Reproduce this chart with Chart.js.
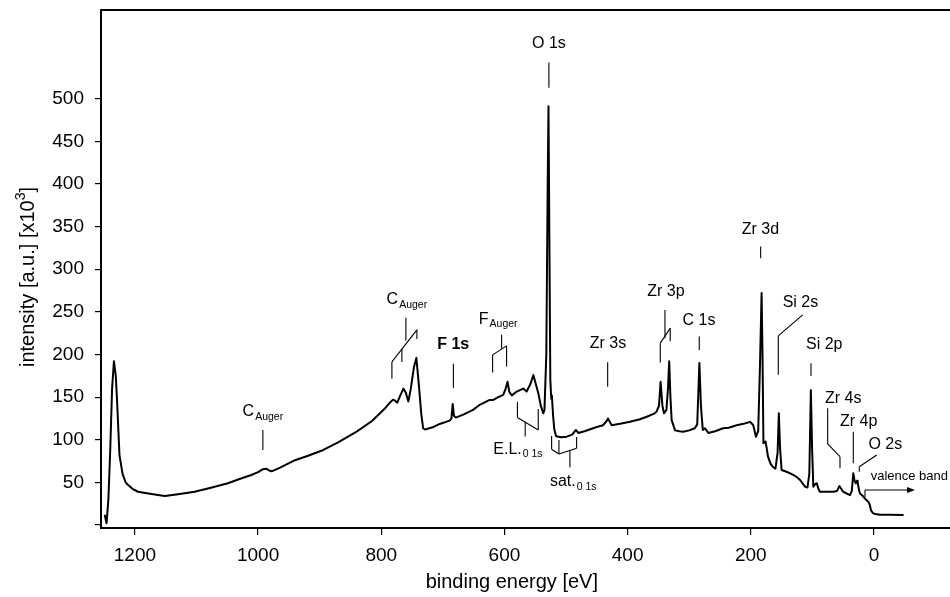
<!DOCTYPE html>
<html>
<head>
<meta charset="utf-8">
<script src="https://cdn.jsdelivr.net/npm/chart.js@4.4.0/dist/chart.umd.min.js"></script>
<style>
    html, body { margin: 0; padding: 0; background: #fff; }
    #wrap { width: 950px; height: 597px; position: relative; }
</style>
</head>
<body>
<div id="wrap"><canvas id="xpsChart"></canvas></div>
<script>
// XPS survey spectrum (binding energy in eV, intensity in 10^3 a.u.)
const energy = [
    1249, 1246, 1243, 1240, 1237, 1234, 1231, 1229, 1225, 1220, 1215, 1211, 1203, 1195, 1178, 1160,
    1151, 1130, 1103, 1075, 1049, 1030, 1011, 1000, 992, 987, 982, 978, 965, 940, 920, 894,
    870, 840, 815, 795, 786, 781, 778, 774, 769, 764, 760, 756, 752, 747, 743, 739,
    735, 732, 729, 715, 705, 695, 689, 686, 684, 682, 679, 665, 651, 640, 624, 618,
    610, 602, 598, 595, 592, 588, 580, 569.5, 564, 558, 553, 549, 545, 541, 537, 535,
    532, 530, 528.5, 527, 525.5, 524, 523, 522, 521, 519, 516, 508, 499, 490, 484, 480,
    470, 450, 440, 434, 432, 429, 426, 410, 396, 380, 369, 356, 353, 349, 346.5, 343.5,
    341, 337, 334.5, 332.5, 330.5, 328.5, 323, 316, 310, 300, 291, 287, 283.5, 281, 278, 274.4,
    269, 258, 245, 236, 223, 210, 201, 196, 191.6, 188, 185, 182.5, 181, 179.5, 176, 172,
    168, 164, 160, 156.5, 154.5, 152.5, 150, 142, 131, 125, 120, 112, 108, 105, 102.5, 100.5,
    98.5, 95.5, 93, 90, 87.7, 80, 66, 60, 56, 52, 50, 39, 36, 33.6, 31.5, 29.7,
    27.5, 26.5, 24, 22.7, 18, 14.6, 12, 9, 7, 5, 2, -2, -10, -25, -48
];
const intensity = [
    12, 2, 30, 88, 160, 192, 175, 147, 82, 60, 50, 47, 42, 39, 37, 35,
    34, 36, 39, 44, 49, 54, 58.7, 62, 65.5, 66, 64, 63, 67, 76, 81, 88,
    97, 109.5, 122, 136, 143.5, 147, 146, 143.5, 152, 160, 155, 145, 160, 185, 196, 165,
    130, 113.5, 112, 115, 118.5, 121, 122.4, 125, 142, 128, 126, 130, 135, 141, 146.7, 146.7,
    150, 152.6, 160, 168, 156, 152, 156.5, 160, 156.5, 165, 176, 165, 154.6, 140, 131, 135,
    200, 380, 491, 330, 170, 148, 152, 140, 128, 112, 104, 103, 103.6, 106, 111.5, 108,
    110, 115, 117, 122, 125, 121, 117, 119, 121, 124, 127, 131, 133, 140, 168, 140,
    131, 135, 160, 192, 150, 123, 111, 110, 109.5, 111, 113.5, 118, 190, 140, 111.5, 113.5,
    108, 110, 113.5, 114, 117, 119, 121, 117, 103.6, 110, 190, 272, 200, 96, 98, 80,
    72, 68, 66, 85, 131, 90, 64.5, 62.5, 58.7, 56, 52.8, 45, 44, 60, 158, 90,
    45, 48, 49, 42, 39, 39, 39, 40, 45.7, 41, 39, 35, 40, 60.7, 52, 49,
    52, 49.6, 40, 37, 34, 31, 29, 27, 24, 17.6, 14, 13, 12, 12, 11.7
];

const xTicks = [0, 200, 400, 600, 800, 1000, 1200];
const yTicks = [0, 50, 100, 150, 200, 250, 300, 350, 400, 450, 500];
const yTickLabels = ['', '50', '100', '150', '200', '250', '300', '350', '400', '450', '500'];

// peak labels, anchored in data units (energy, intensity)
const peakLabels = [
    { text: 'O 1s', e: 527.8, i: 564.6 },
    { text: 'C', sub: 'Auger', e: 992.2, i: 132.6 },
    { text: 'C', sub: 'Auger', e: 758.4, i: 264.1 },
    { text: 'F 1s', e: 683.2, i: 211.3, bold: true },
    { text: 'F', sub: 'Auger', e: 610.1, i: 241.4 },
    { text: 'E.L.', sub: '0 1s', e: 578.1, i: 88.8 },
    { text: 'sat.', sub: '0 1s', e: 488.3, i: 50.8 },
    { text: 'Zr 3s', e: 432.0, i: 212.4 },
    { text: 'Zr 3p', e: 337.8, i: 273.5 },
    { text: 'C 1s', e: 284.2, i: 239.4 },
    { text: 'Zr 3d', e: 184.3, i: 346.2 },
    { text: 'Si 2s', e: 119.4, i: 260.6 },
    { text: 'Si 2p', e: 80.7, i: 211.3 },
    { text: 'Zr 4s', e: 49.9, i: 148.7 },
    { text: 'Zr 4p', e: 24.8, i: 121.2 },
    { text: 'O 2s', e: -18.4, i: 93.9 },
    { text: 'valence band', e: 5.4, i: 56.7, small: true }
];

// leader lines [e1, i1, e2, i2]
const leaderLines = [
    [527.8, 542.3, 527.8, 512.9],
    [992.2, 111.5, 992.2, 88.0],
    [760.0, 243.0, 760.0, 216.0],
    [782.7, 191.3, 742.1, 228.9],
    [782.7, 191.3, 782.7, 171.4],
    [766.5, 206.6, 766.5, 191.3],
    [742.1, 228.9, 742.1, 218.3],
    [682.9, 189.0, 682.9, 160.8],
    [604.6, 223.0, 604.6, 206.6],
    [619.2, 199.5, 596.5, 210.1],
    [619.2, 199.5, 619.2, 178.8],
    [596.5, 210.1, 596.5, 185.8],
    [578.9, 144.7, 578.9, 126.2],
    [578.9, 126.2, 545.1, 111.5],
    [545.1, 136.2, 545.1, 111.5],
    [566.3, 120.9, 566.3, 103.9],
    [523.4, 104.5, 523.4, 88.8],
    [523.4, 88.8, 511.5, 83.3],
    [511.5, 99.8, 511.5, 83.3],
    [511.5, 83.3, 482.8, 90.0],
    [482.8, 103.3, 482.8, 90.0],
    [493.7, 86.9, 493.7, 67.7],
    [432.4, 191.0, 432.4, 162.3],
    [339.4, 252.3, 339.4, 219.0],
    [347.0, 213.3, 330.8, 230.9],
    [347.0, 213.3, 347.0, 190.5],
    [330.8, 230.9, 330.8, 215.4],
    [283.7, 221.0, 283.7, 205.4],
    [184.0, 326.6, 184.0, 313.0],
    [115.8, 246.5, 155.4, 221.8],
    [155.4, 221.8, 155.4, 176.1],
    [102.3, 189.8, 102.3, 174.9],
    [75.2, 137.0, 75.2, 95.1],
    [75.2, 95.1, 55.2, 80.2],
    [55.2, 80.2, 55.2, 66.5],
    [33.6, 109.5, 33.6, 72.4],
    [-4.4, 82.2, 23.9, 68.4],
    [23.9, 68.4, 23.9, 62.6],
    [14.6, 41.1, 14.6, 32.9]
];
const valenceArrow = [14.6, 41.1, -66.6, 41.1];
const xTitleAt = 588; // eV, where the x title is centred

const FONT = "'Liberation Sans', Arial, Helvetica, sans-serif";

const annotationPlugin = {
    id: 'xpsAnnotations',
    afterDraw(chart) {
        const { ctx, chartArea, scales: { x, y } } = chart;
        ctx.save();
        ctx.strokeStyle = '#000';
        ctx.fillStyle = '#000';

        // top frame line
        ctx.lineWidth = 2;
        ctx.beginPath();
        ctx.moveTo(chartArea.left - 1, chartArea.top);
        ctx.lineTo(chartArea.right, chartArea.top);
        ctx.stroke();

        // leader lines
        ctx.lineWidth = 1.1;
        leaderLines.forEach(s => {
            ctx.beginPath();
            ctx.moveTo(x.getPixelForValue(s[0]), y.getPixelForValue(s[1]));
            ctx.lineTo(x.getPixelForValue(s[2]), y.getPixelForValue(s[3]));
            ctx.stroke();
        });

        // valence band arrow
        const ax1 = x.getPixelForValue(valenceArrow[0]);
        const ay1 = y.getPixelForValue(valenceArrow[1]);
        const ax2 = x.getPixelForValue(valenceArrow[2]);
        ctx.beginPath();
        ctx.moveTo(ax1, ay1);
        ctx.lineTo(ax2 - 6, ay1);
        ctx.stroke();
        ctx.beginPath();
        ctx.moveTo(ax2, ay1);
        ctx.lineTo(ax2 - 8, ay1 - 3);
        ctx.lineTo(ax2 - 8, ay1 + 3);
        ctx.closePath();
        ctx.fill();

        // peak labels
        ctx.textBaseline = 'middle';
        peakLabels.forEach(l => {
            const px = x.getPixelForValue(l.e);
            const py = y.getPixelForValue(l.i);
            if (l.small) {
                ctx.font = '13px ' + FONT;
                ctx.textAlign = 'left';
                ctx.fillText(l.text, px, py);
                return;
            }
            const mainFont = (l.bold ? 'bold ' : '') + '16px ' + FONT;
            const subFont = '10.5px ' + FONT;
            ctx.font = mainFont;
            const wm = ctx.measureText(l.text).width;
            let ws = 0;
            if (l.sub) {
                ctx.font = subFont;
                ws = ctx.measureText(l.sub).width + 1;
            }
            const x0 = px - (wm + ws) / 2;
            ctx.textAlign = 'left';
            ctx.font = mainFont;
            ctx.fillText(l.text, x0, py);
            if (l.sub) {
                ctx.font = subFont;
                ctx.fillText(l.sub, x0 + wm + 1, py + 5);
            }
        });

        // x axis title
        ctx.font = '20px ' + FONT;
        ctx.textAlign = 'center';
        ctx.fillText('binding energy [eV]', x.getPixelForValue(xTitleAt), 582);

        // y axis title with superscript
        const partA = 'intensity [a.u.] [x10';
        const partB = '3';
        const partC = ']';
        ctx.font = '20px ' + FONT;
        const wa = ctx.measureText(partA).width;
        const wc = ctx.measureText(partC).width;
        ctx.font = '14px ' + FONT;
        const wb = ctx.measureText(partB).width;
        const total = wa + wb + wc;
        ctx.translate(28, (chartArea.top + chartArea.bottom) / 2 + 8);
        ctx.rotate(-Math.PI / 2);
        ctx.textAlign = 'left';
        let cx = -total / 2;
        ctx.font = '20px ' + FONT;
        ctx.fillText(partA, cx, 0);
        cx += wa;
        ctx.font = '14px ' + FONT;
        ctx.fillText(partB, cx, -7);
        cx += wb;
        ctx.font = '20px ' + FONT;
        ctx.fillText(partC, cx, 0);

        ctx.restore();
    }
};

function buildChart() {
    const ctx = document.getElementById('xpsChart').getContext('2d');
    const points = energy.map((e, idx) => ({ x: e, y: intensity[idx] }));

    new Chart(ctx, {
        type: 'line',
        data: {
            datasets: [{
                data: points,
                borderColor: '#000',
                borderWidth: 2,
                pointRadius: 0,
                tension: 0,
                fill: false,
                borderJoinStyle: 'round'
            }]
        },
        options: {
            responsive: true,
            maintainAspectRatio: false,
            animation: false,
            devicePixelRatio: 1,
            layout: { padding: { top: 10, right: 0, left: 0, bottom: 0 } },
            plugins: {
                legend: { display: false },
                tooltip: { enabled: false }
            },
            scales: {
                x: {
                    type: 'linear',
                    reverse: true,
                    min: -123.4,
                    max: 1255,
                    afterBuildTicks: s => { s.ticks = xTicks.map(v => ({ value: v })); },
                    afterFit: s => { s.height = 69; s.paddingLeft = 0; s.paddingRight = 0; },
                    grid: { drawOnChartArea: false, drawTicks: true, tickLength: 7, color: '#000', lineWidth: 1.2 },
                    border: { display: true, color: '#000', width: 2 },
                    ticks: {
                        color: '#000',
                        padding: 9,
                        maxRotation: 0,
                        font: { family: FONT, size: 19 },
                        callback: v => String(v)
                    }
                },
                y: {
                    type: 'linear',
                    min: -3.5,
                    max: 604,
                    afterBuildTicks: s => { s.ticks = yTicks.map(v => ({ value: v })); },
                    afterFit: s => { s.width = 101; s.paddingTop = 0; s.paddingBottom = 0; },
                    grid: { drawOnChartArea: false, drawTicks: true, tickLength: 6, color: '#000', lineWidth: 1.2 },
                    border: { display: true, color: '#000', width: 2 },
                    ticks: {
                        color: '#000',
                        padding: 11,
                        font: { family: FONT, size: 19 },
                        callback: v => yTickLabels[yTicks.indexOf(v)]
                    }
                }
            }
        },
        plugins: [annotationPlugin]
    });
}

document.addEventListener('DOMContentLoaded', buildChart);
</script>
</body>
</html>
